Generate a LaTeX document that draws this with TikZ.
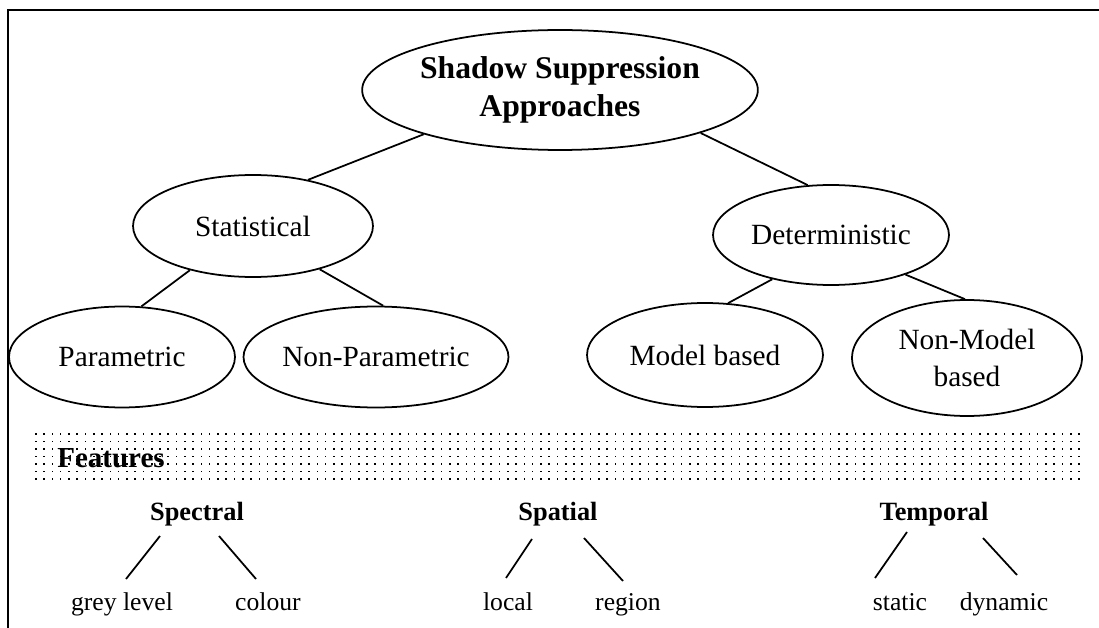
\documentclass[tikz,border=0pt]{standalone}
\usepackage{fontspec}
\setmainfont{Liberation Serif}
\usetikzlibrary{shapes.geometric}
\tikzset{
  approach/.style={ellipse,draw,line width=1pt,inner sep=0pt,align=center,
    font=\fontsize{16.7}{21}\selectfont},
  feature/.style={anchor=base,font=\fontsize{15}{18}\selectfont\bfseries},
  leaf/.style={anchor=base,font=\fontsize{14.6}{17}\selectfont},
  branch/.style={line width=1pt}
}
\begin{document}
\begin{tikzpicture}[x=0.02cm,y=-0.02cm]
  \useasboundingbox (0,0) rectangle (1099,628);
  \draw[line width=1.6pt] (8,628) -- (8,10) -- (1099,10);
  % approaches
  \node[approach,minimum width=7.68cm,minimum height=2.4cm,
    font=\fontsize{18}{22}\selectfont\bfseries] (shadow) at (560,90)
    {Shadow Suppression\\Approaches};
  \node[approach,minimum width=4.8cm,minimum height=2.04cm] (stat) at (253,226) {Statistical};
  \node[approach,minimum width=4.72cm,minimum height=2.0cm] (det) at (831,235) {Deterministic};
  \node[approach,minimum width=4.52cm,minimum height=2.02cm] (param) at (122,357) {Parametric};
  \node[approach,minimum width=5.12cm,minimum height=2.02cm] (nonparam) at (376,357) {Non-Parametric};
  \node[approach,minimum width=4.72cm,minimum height=2.08cm] (model) at (705,355) {Model based};
  \node[approach,minimum width=4.6cm,minimum height=2.32cm] (nonmodel) at (967,358) {Non-Model\\based};
  \draw[branch] (shadow.198) -- (stat.40);
  \draw[branch] (shadow.343) -- (det.115);
  \draw[branch] (stat.215) -- (param.69);
  \draw[branch] (stat.327) -- (nonparam.82);
  \draw[branch] (det.217) -- (model.66);
  \draw[branch] (det.332) -- (nonmodel.92);
  % dotted band
  \foreach \i in {0,...,126}
    \foreach \j in {0,...,6}
      \fill (35+8.28*\i,433+7.5*\j) rectangle +(1.6,1.6);
  \node[anchor=base,font=\fontsize{16.5}{19}\selectfont\bfseries] (feat) at (111,467) {Features};
  % features
  \node[feature] (spec) at (197,520) {Spectral};
  \node[feature] (spat) at (558,520) {Spatial};
  \node[feature] (temp) at (934,520) {Temporal};
  \node[leaf] (grey) at (122,610) {grey level};
  \node[leaf] (colour) at (268,610) {colour};
  \node[leaf] (local) at (508,610) {local};
  \node[leaf] (region) at (628,610) {region};
  \node[leaf] (static) at (900,610) {static};
  \node[leaf] (dynamic) at (1004,610) {dynamic};
  \draw[branch] ([shift={(-37,16)}]spec.base) -- ([shift={(4,-31)}]grey.base);
  \draw[branch] ([shift={(22,16)}]spec.base) -- ([shift={(-12,-31)}]colour.base);
  \draw[branch] ([shift={(-26,19)}]spat.base) -- ([shift={(-2,-32)}]local.base);
  \draw[branch] ([shift={(26,18)}]spat.base) -- ([shift={(-5,-29)}]region.base);
  \draw[branch] ([shift={(-27,12)}]temp.base) -- ([shift={(-25,-32)}]static.base);
  \draw[branch] ([shift={(49,18)}]temp.base) -- ([shift={(13,-35)}]dynamic.base);
\end{tikzpicture}
\end{document}
